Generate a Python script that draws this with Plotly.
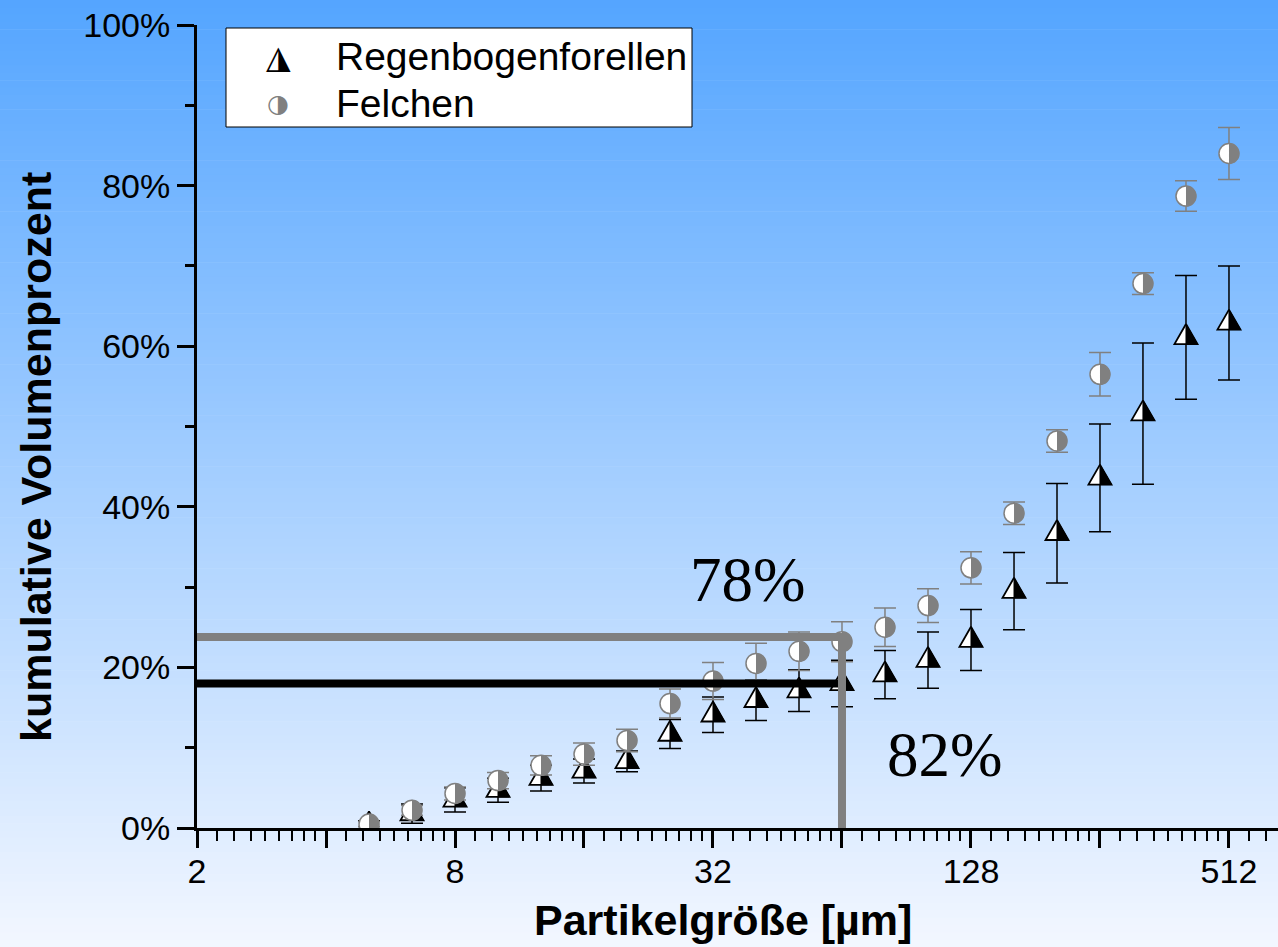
import math
import plotly.graph_objects as go

# ---------------- data ----------------
particle_size_um = [5.04, 6.35, 8.0, 10.08, 12.7, 16.0, 20.16, 25.4, 32.0, 40.32, 50.8,
                    64.0, 80.63, 101.6, 128.0, 161.3, 203.2, 256.0, 322.5, 406.4, 512.0]
forelle_pct = [0.4, 1.8, 3.5, 4.7, 6.2, 7.1, 8.3, 11.7, 14.1, 15.9, 17.1,
               18.0, 19.1, 20.9, 23.4, 29.5, 36.7, 43.6, 51.6, 61.1, 62.9]
forelle_err = [0.5, 1.2, 1.5, 1.5, 1.6, 1.5, 1.3, 1.8, 2.2, 2.5, 2.6,
               2.9, 3.0, 3.5, 3.8, 4.8, 6.2, 6.7, 8.8, 7.7, 7.1]
felchen_pct = [0.5, 2.2, 4.3, 5.9, 7.8, 9.2, 10.9, 15.5, 18.3, 20.5, 22.0,
               23.2, 25.0, 27.7, 32.4, 39.2, 48.2, 56.5, 67.8, 78.7, 84.0]
felchen_err = [0.3, 0.6, 0.8, 1.0, 1.2, 1.4, 1.4, 1.8, 2.3, 2.5, 2.4,
               2.5, 2.4, 2.1, 2.0, 1.4, 1.4, 2.7, 1.35, 1.9, 3.25]

series_names = ["Regenbogenforellen", "Felchen"]
x_title = "Partikelgröße [µm]"
y_title = "kumulative Volumenprozent"
x_tick_vals = [2, 4, 8, 16, 32, 64, 128, 256, 512]
x_tick_text = ["2", "", "8", "", "32", "", "128", "", "512"]
y_tick_vals = [0, 20, 40, 60, 80, 100]
y_tick_text = ["0%", "20%", "40%", "60%", "80%", "100%"]
y_minor_vals = [10, 30, 50, 70, 90]

ref_size_um = [2, 64]          # horizontal reference lines run from the axis to 64 µm
ref_forelle_pct = 18.0
ref_felchen_pct = 23.8
label_felchen = "78%"
label_forelle = "82%"

# ---------------- geometry ----------------
W, H = 1278, 947
ML, MR, MT, MB = 197, 0, 25, 119
PLOT_W = W - ML - MR
PLOT_H = H - MT - MB
X_MIN_LOG2 = 1.0
X_MAX_LOG2 = 9.38
PX_PER_OCT = PLOT_W / (X_MAX_LOG2 - X_MIN_LOG2)
PX_PER_PCT = PLOT_H / 100.0

GRAY = "#808080"
FONT = "Liberation Sans, Arial, sans-serif"
SERIF = "Liberation Serif, Times New Roman, serif"


def px_to_paper_x(px):
    return (px - ML) / PLOT_W


def px_to_paper_y(py):
    return (H - MB - py) / PLOT_H


# minor ticks: 8 linear subdivisions per octave
x_minor_vals = []
for b in x_tick_vals:
    for k in range(1, 9):
        v = b * (1 + k / 9)
        if math.log2(v) < X_MAX_LOG2:
            x_minor_vals.append(v)


def polygon_trace(xs, ys, shape_px, fill, line_color, line_width):
    X, Y = [], []
    for x, y in zip(xs, ys):
        for dx, dy in shape_px:
            X.append(x * 2 ** (dx / PX_PER_OCT))
            Y.append(y + dy / PX_PER_PCT)
        X.append(None)
        Y.append(None)
    return go.Scatter(x=X, y=Y, mode="lines", fill="toself", fillcolor=fill,
                      line=dict(color=line_color, width=line_width),
                      hoverinfo="skip", showlegend=False)


TRI_HW, TRI_UP, TRI_DN = 11.5, 13.3, 6.7
tri_full = [(0, TRI_UP), (TRI_HW, -TRI_DN), (-TRI_HW, -TRI_DN), (0, TRI_UP)]
tri_right = [(0, TRI_UP), (0, -TRI_DN), (TRI_HW, -TRI_DN), (0, TRI_UP)]
CR = 10.0
circ_right = [(CR * math.sin(math.pi * i / 24), CR * math.cos(math.pi * i / 24)) for i in range(25)]

fig = go.Figure()

# Regenbogenforellen: error bars + half-filled triangles
fig.add_trace(go.Scatter(
    x=particle_size_um, y=forelle_pct, mode="markers", name=series_names[0],
    marker=dict(size=2, color="rgba(0,0,0,0)"),
    error_y=dict(type="data", array=forelle_err, color="black", thickness=1.5, width=11),
    showlegend=False))
fig.add_trace(polygon_trace(particle_size_um, forelle_pct, tri_full, "white", "black", 1.8))
fig.add_trace(polygon_trace(particle_size_um, forelle_pct, tri_right, "black", "black", 1))

# Felchen: circles with error bars + gray right half
fig.add_trace(go.Scatter(
    x=particle_size_um, y=felchen_pct, mode="markers", name=series_names[1],
    marker=dict(symbol="circle", size=20, color="white", line=dict(color=GRAY, width=1.5)),
    error_y=dict(type="data", array=felchen_err, color=GRAY, thickness=1.5, width=11),
    showlegend=False))
fig.add_trace(polygon_trace(particle_size_um, felchen_pct, circ_right, GRAY, GRAY, 0.5))

# reference lines at 64 µm
fig.add_trace(go.Scatter(x=ref_size_um, y=[ref_forelle_pct, ref_forelle_pct], mode="lines",
                         line=dict(color="black", width=8), hoverinfo="skip", showlegend=False))
fig.add_trace(go.Scatter(x=[ref_size_um[0], ref_size_um[1], ref_size_um[1]],
                         y=[ref_felchen_pct, ref_felchen_pct, 0],
                         mode="lines", line=dict(color=GRAY, width=8),
                         hoverinfo="skip", showlegend=False))

# ---------------- background gradient ----------------
top_rgb = (84, 165, 255)
bot_rgb = (243, 247, 255)
shapes = []
N = 130
for i in range(N):
    t = (i + 0.5) / N
    c = tuple(round(top_rgb[j] + (bot_rgb[j] - top_rgb[j]) * t) for j in range(3))
    py0 = H * i / N
    py1 = H * (i + 1) / N + 0.6
    shapes.append(dict(type="rect", xref="paper", yref="paper", layer="below",
                       x0=px_to_paper_x(0), x1=px_to_paper_x(W),
                       y0=px_to_paper_y(py1), y1=px_to_paper_y(py0),
                       fillcolor="rgb(%d,%d,%d)" % c, line=dict(width=0)))

# legend box
shapes.append(dict(type="rect", xref="paper", yref="paper", layer="above",
                   x0=px_to_paper_x(226), x1=px_to_paper_x(692),
                   y0=px_to_paper_y(127), y1=px_to_paper_y(28),
                   fillcolor="white", line=dict(color="black", width=1)))

annotations = [
    dict(text=series_names[0], xref="paper", yref="paper", x=px_to_paper_x(334), y=px_to_paper_y(56),
         xanchor="left", yanchor="middle", showarrow=False, font=dict(family=FONT, size=39, color="black")),
    dict(text=series_names[1], xref="paper", yref="paper", x=px_to_paper_x(334), y=px_to_paper_y(103),
         xanchor="left", yanchor="middle", showarrow=False, font=dict(family=FONT, size=39, color="black")),
    dict(text="\u25ee", xref="paper", yref="paper", x=px_to_paper_x(278), y=px_to_paper_y(57),
         xanchor="center", yanchor="middle", showarrow=False, font=dict(family="DejaVu Sans", size=32, color="black")),
    dict(text="\u25d1", xref="paper", yref="paper", x=px_to_paper_x(278), y=px_to_paper_y(104),
         xanchor="center", yanchor="middle", showarrow=False, font=dict(family="DejaVu Sans", size=25, color=GRAY)),
    dict(text=label_felchen, xref="paper", yref="paper", x=px_to_paper_x(747), y=px_to_paper_y(580),
         xanchor="center", yanchor="middle", showarrow=False, font=dict(family=SERIF, size=63, color="black")),
    dict(text=label_forelle, xref="paper", yref="paper", x=px_to_paper_x(944), y=px_to_paper_y(755),
         xanchor="center", yanchor="middle", showarrow=False, font=dict(family=SERIF, size=63, color="black")),
    dict(text="<b>%s</b>" % x_title, xref="paper", yref="paper", x=px_to_paper_x(723), y=px_to_paper_y(920),
         xanchor="center", yanchor="middle", showarrow=False, font=dict(family=FONT, size=43, color="black")),
    dict(text="<b>%s</b>" % y_title, xref="paper", yref="paper", x=px_to_paper_x(36), y=px_to_paper_y(457),
         xanchor="center", yanchor="middle", textangle=-90, showarrow=False,
         font=dict(family=FONT, size=43, color="black")),
]

fig.update_layout(
    width=W, height=H, autosize=False,
    margin=dict(l=ML, r=MR, t=MT, b=MB, pad=0),
    paper_bgcolor="rgb(%d,%d,%d)" % bot_rgb,
    plot_bgcolor="rgba(0,0,0,0)",
    showlegend=False,
    shapes=shapes,
    annotations=annotations,
    xaxis=dict(
        type="log", range=[math.log10(2 ** X_MIN_LOG2), math.log10(2 ** X_MAX_LOG2)],
        tickmode="array", tickvals=x_tick_vals, ticktext=x_tick_text,
        ticks="outside", ticklen=17, tickwidth=3, tickcolor="black",
        showline=True, linecolor="black", linewidth=3, showgrid=False, zeroline=False,
        tickfont=dict(family=FONT, size=34, color="black"), ticklabelstandoff=-6,
        minor=dict(tickmode="array", tickvals=x_minor_vals, ticks="outside",
                   ticklen=10, tickwidth=2, tickcolor="black", showgrid=False),
    ),
    yaxis=dict(
        range=[0, 100], tickmode="array", tickvals=y_tick_vals, ticktext=y_tick_text,
        ticks="outside", ticklen=17, tickwidth=3, tickcolor="black",
        showline=True, linecolor="black", linewidth=3, showgrid=False, zeroline=False,
        tickfont=dict(family=FONT, size=34, color="black"),
        minor=dict(tickmode="array", tickvals=y_minor_vals, ticks="outside",
                   ticklen=9, tickwidth=3, tickcolor="black", showgrid=False),
    ),
)

fig.write_html(
    "out.html",
    config={"displayModeBar": False},
    post_script="document.body.style.margin='0';document.body.style.background='rgb(%d,%d,%d)';" % top_rgb,
)
